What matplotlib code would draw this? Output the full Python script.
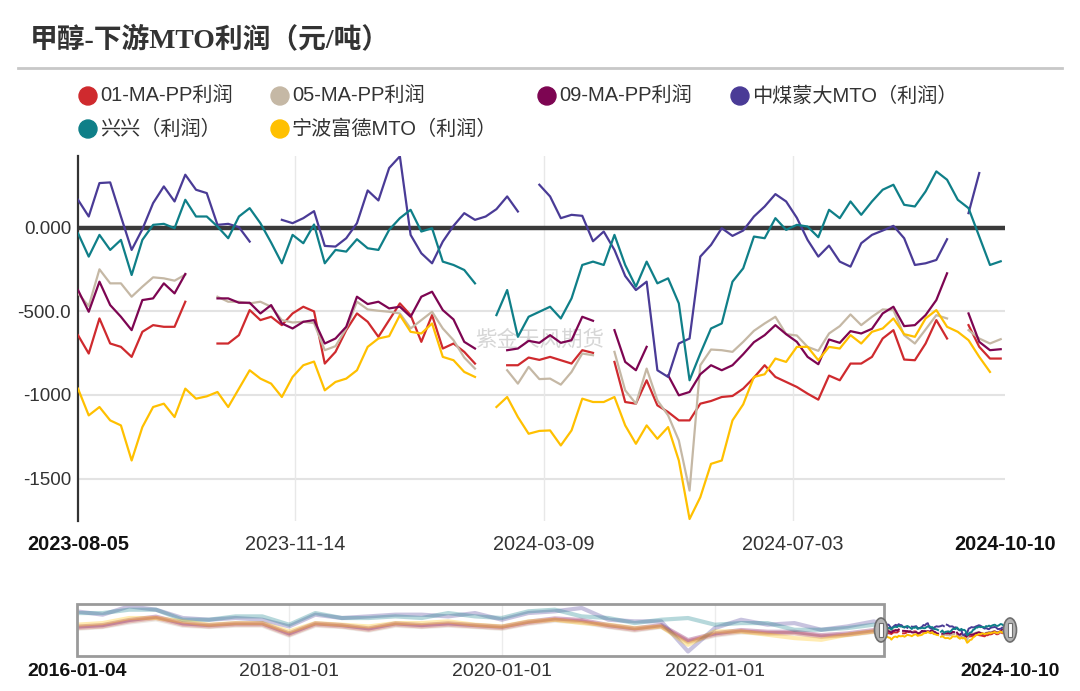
import matplotlib
matplotlib.use("Agg")
import matplotlib.pyplot as plt
import matplotlib.dates as mdates
from matplotlib.patches import Circle, Ellipse, Rectangle
import numpy as np
import pandas as pd

plt.rcParams["font.family"] = ["Liberation Sans", "Noto Sans CJK SC"]

nan = np.nan

# main window, one reading every 5 days from 2023-08-05
dates = pd.date_range("2023-08-05", periods=87, freq="5D")

pp01 = [-642, -752, -542, -692, -712, -772, -622, -582, -592, -592, -442, nan, nan, -692, -692,
        -642, -492, -552, -532, -582, -512, -472, -500, -812, -742, -612, -512, -562, -652, -552,
        -452, -522, -682, -522, -722, -692, -742, -812, nan, nan, -822, -822, -776, -790, -772,
        -792, -812, -732, -748, nan, -802, -1042, -1052, -912, -1062, -1102, -1152, -1152, -1052, -1036,
        -1012, -1006, -962, -896, -822, -892, -922, -952, -992, -1028, -884, -912, -812, -812, -772,
        -662, -612, -788, -792, -692, -552, -662, nan, -582, -712, -782, -782]
pp05 = [-392, -468, -248, -332, -332, -412, -352, -296, -302, -316, -280, nan, nan, -412, -442,
        -442, -452, -442, -472, -552, -566, -562, -570, -732, -708, -602, -442, -488, -496, -502,
        -512, -602, -552, -502, -602, -672, -776, -842, nan, nan, -852, -932, -832, -905, -902,
        -938, -862, -752, -762, nan, -742, -972, -1052, -842, -1032, -1122, -1272, -1572, -822, -728,
        -732, -742, -682, -616, -572, -532, -636, -644, -712, -736, -632, -588, -518, -582, -532,
        -488, -492, -642, -692, -608, -522, -542, nan, -612, -662, -692, -666]
pp09 = [-372, -502, -322, -462, -532, -612, -432, -422, -332, -392, -276, nan, nan, -422, -422,
        -448, -448, -512, -462, -572, -602, -562, -552, -692, -662, -592, -412, -456, -442, -482,
        -472, -532, -412, -382, -492, -548, -682, -722, nan, nan, -732, -722, -676, -688, -642,
        -688, -672, -532, -556, nan, -612, -802, -852, -712, nan, -882, -1002, -982, -876, -822,
        -852, -822, -756, -684, -642, -582, -636, -682, -772, -816, -668, -688, -618, -632, -604,
        -512, -472, -588, -582, -522, -432, -272, nan, -512, -682, -732, -726]
zmmd = [168, 68, 268, 272, 68, -132, -8, 148, 248, 158, 318, 228, 208, 18, 24,
        4, -82, nan, nan, 48, 28, 58, 100, -108, -112, -62, 28, 224, 164, 358,
        428, -42, -152, -212, -82, 12, 88, 48, 68, 112, 188, 98, nan, 258, 188,
        58, 78, 72, -80, -22, -132, -288, -372, -322, -852, -892, -692, -662, -172, -102,
        -2, -48, -16, 68, 128, 202, 158, 60, -72, -172, -106, -202, -232, -92, -42,
        -16, 12, -62, -222, -212, -192, -68, nan, 88, 328, nan, 208]
xingxing = [-32, -172, -42, -132, -72, -282, -72, 18, 24, -2, 168, 68, 68, 8, -62,
            68, 118, 28, -88, -212, -42, -92, 20, -212, -132, -142, -68, -122, -132, -12,
            58, 108, -22, -2, -202, -222, -252, -332, nan, -522, -372, -652, -532, -502, -472,
            -542, -422, -222, -202, -222, -42, -222, -352, -202, -332, -302, -452, -912, -752, -602,
            -572, -322, -242, -52, -62, 58, -12, 18, 8, -56, 108, 58, 158, 78, 158,
            228, 258, 138, 128, 218, 338, 288, 168, 118, -52, -222, -200]
nbfd = [-962, -1122, -1072, -1152, -1182, -1392, -1192, -1072, -1052, -1132, -962, -1022, -1008, -982, -1072,
        -962, -852, -902, -932, -1012, -892, -822, -800, -972, -922, -902, -852, -712, -662, -648,
        -522, -622, -632, -572, -772, -792, -862, -892, nan, -1072, -1012, -1132, -1232, -1215, -1212,
        -1302, -1212, -1022, -1042, -1042, -1012, -1182, -1292, -1182, -1262, -1192, -1392, -1742, -1612, -1412,
        -1392, -1152, -1056, -892, -876, -782, -802, -712, -712, -792, -712, -722, -642, -692, -622,
        -602, -542, -636, -652, -542, -492, -592, -622, -672, -772, -862, nan]

# longer history shown faded in the zoom bar, quarterly readings
hist_dates = pd.date_range("2016-01-01", "2023-07-01", freq="QS")
hist_pp01 = [-110, 70, 630, 1000, 260, 70, 260, 260, -850, 260, 70, -300, 260, 70, 260, 70,
             -110, 440, 810, 630, 70, -300, 70, -1590, -850, -480, -670, -670, -1040, -850, -480]
hist_pp05 = [-200, 0, 500, 850, 150, 0, 150, 150, -950, 150, 0, -400, 150, 0, 150, 0,
             -200, 350, 700, 500, 0, -400, 0, -1700, -950, -600, -750, -700, -1100, -900, -550]
hist_pp09 = [40, 220, 780, 1150, 410, 220, 410, 410, -700, 410, 220, -150, 410, 220, 410, 220,
             40, 590, 960, 780, 220, -150, 220, -1440, -700, -330, -520, -520, -890, -700, -330]
hist_zmmd = [1740, 1370, 2290, 1920, 1000, 810, 1000, 810, 70, 1370, 1000, 1180, 1370, 1370, 1180, 1550,
             810, 1550, 1740, 2110, 810, 630, 630, -2700, -110, 810, 260, 440, -300, 70, 630]
hist_xingxing = [1550, 1550, 1920, 1920, 810, 810, 1180, 1180, 260, 1550, 1000, 1000, 1180, 1000, 1550, 1180,
                 1000, 1740, 1920, 1180, 1000, 440, 810, 1000, 260, 440, 440, -300, -300, -110, 260]
hist_nbfd = [260, 440, 1000, 1000, 630, 260, 440, 440, -480, 440, 260, 70, 440, 440, 630, 260,
             70, 630, 810, 440, 260, -110, 70, -1960, -480, -480, -850, -1220, -1410, -850, -480]

names = ["01-MA-PP利润", "05-MA-PP利润", "09-MA-PP利润", "中煤蒙大MTO（利润）", "兴兴（利润）", "宁波富德MTO（利润）"]
colors = ["#cf2a2e", "#c5b8a5", "#7d0552", "#4a3b96", "#0f7f88", "#ffc000"]
series = [pp01, pp05, pp09, zmmd, xingxing, nbfd]
history = [hist_pp01, hist_pp05, hist_pp09, hist_zmmd, hist_xingxing, hist_nbfd]

tick_dates = pd.to_datetime(["2023-08-05", "2023-11-14", "2024-03-09", "2024-07-03", "2024-10-10"])
bar_ticks = pd.to_datetime(["2016-01-04", "2018-01-01", "2020-01-01", "2022-01-01", "2024-10-10"])

W, H = 1080, 691
fig = plt.figure(figsize=(W / 100, H / 100), dpi=100)

# main chart
ax = fig.add_axes([78 / W, 1 - 521 / H, (1005 - 78) / W, (521 - 156) / H])
ax.set_xlim(pd.Timestamp("2023-08-05"), pd.Timestamp("2024-10-10"))
ax.set_ylim(-1754, 430)
for y in [-500, -1000, -1500]:
    ax.axhline(y, color="#e3e3e3", lw=1.5, zorder=1)
for d in tick_dates[1:-1]:
    ax.axvline(d, color="#e8e8e8", lw=1, zorder=1)
ax.axhline(0, color="#3a3a3a", lw=3.2, zorder=2)
ax.text(0.498, 0.496, "紫金天风期货", transform=ax.transAxes, fontsize=15.5,
        color="#d6d6d6", ha="center", va="center", zorder=1)
for vals, c in zip(series, colors):
    ax.plot(dates, vals, color=c, lw=1.6, zorder=3)

for s in ["top", "right", "bottom"]:
    ax.spines[s].set_visible(False)
ax.spines["left"].set_color("#333333")
ax.spines["left"].set_linewidth(1.6)
ax.set_yticks([0, -500, -1000, -1500])
ax.set_yticklabels(["0.000", "-500.0", "-1000", "-1500"])
ax.set_xticks(tick_dates)
ax.set_xticklabels([d.strftime("%Y-%m-%d") for d in tick_dates])
ax.tick_params(axis="y", length=0, pad=5, labelsize=13.5, labelcolor="#333333")
ax.tick_params(axis="x", length=0, pad=10, labelsize=14.3, labelcolor="#333333")
xl = ax.get_xticklabels()
for lbl in (xl[0], xl[-1]):
    lbl.set_fontweight("bold")
    lbl.set_color("#111111")

# zoom bar
sl = fig.add_axes([77 / W, 1 - 656 / H, (1010 - 77) / W, (656 - 604) / H])
sl.set_xlim(pd.Timestamp("2016-01-04"), pd.Timestamp("2024-10-10"))
sl.set_ylim(-3200, 2550)
for d in bar_ticks[1:-1]:
    sl.axvline(d, color="#ececec", lw=1, zorder=1)
for hv, vals, c in zip(history, series, colors):
    hx = list(hist_dates) + [dates[0]]
    hy = list(hv) + [vals[0]]
    sl.plot(hx, hy, color=c, lw=3, alpha=0.3, zorder=2)
    sl.plot(dates, vals, color=c, lw=1.4, zorder=3)
x0 = mdates.date2num(pd.Timestamp("2016-01-04"))
x1 = mdates.date2num(pd.Timestamp("2023-08-05"))
sl.add_patch(Rectangle((x0, -3200), x1 - x0, 5750, fill=False, ec="#9a9a9a",
                       lw=2, clip_on=False, zorder=4))
for s in sl.spines.values():
    s.set_visible(False)
sl.set_yticks([])
sl.set_xticks(bar_ticks)
sl.set_xticklabels([d.strftime("%Y-%m-%d") for d in bar_ticks])
sl.tick_params(axis="x", length=0, pad=5, labelsize=14, labelcolor="#333333")
bl = sl.get_xticklabels()
for lbl in (bl[0], bl[-1]):
    lbl.set_fontweight("bold")
    lbl.set_color("#111111")

# title, divider, legend, handles in pixel space
ov = fig.add_axes([0, 0, 1, 1])
ov.set_xlim(0, W)
ov.set_ylim(H, 0)
ov.axis("off")
ov.patch.set_visible(False)
ov.text(30, 41, "甲醇-下游MTO利润（元/吨）", fontsize=20, fontweight="bold",
        family=["Liberation Serif", "Noto Sans CJK SC"], color="#333333", va="center", ha="left")
ov.plot([18, 1062], [68, 68], color="#c8c8c8", lw=2)

legend_pos = [(88, 96), (280, 96), (547, 96), (740, 96), (88, 129), (280, 129)]
for (lx, ly), name, c in zip(legend_pos, names, colors):
    ov.add_patch(Circle((lx, ly), 9, color=c))
    ov.text(lx + 12, ly, name, fontsize=14.5, color="#333333", va="center", ha="left")

for hx in (881, 1010):
    ov.add_patch(Ellipse((hx, 630), 13, 24, fc="#b4b4b4", ec="#6e6e6e", lw=1.2))
    ov.add_patch(Rectangle((hx - 2, 623), 4, 14, fc="white", ec="#6e6e6e", lw=0.8))

fig.savefig("out.png", dpi=100)
